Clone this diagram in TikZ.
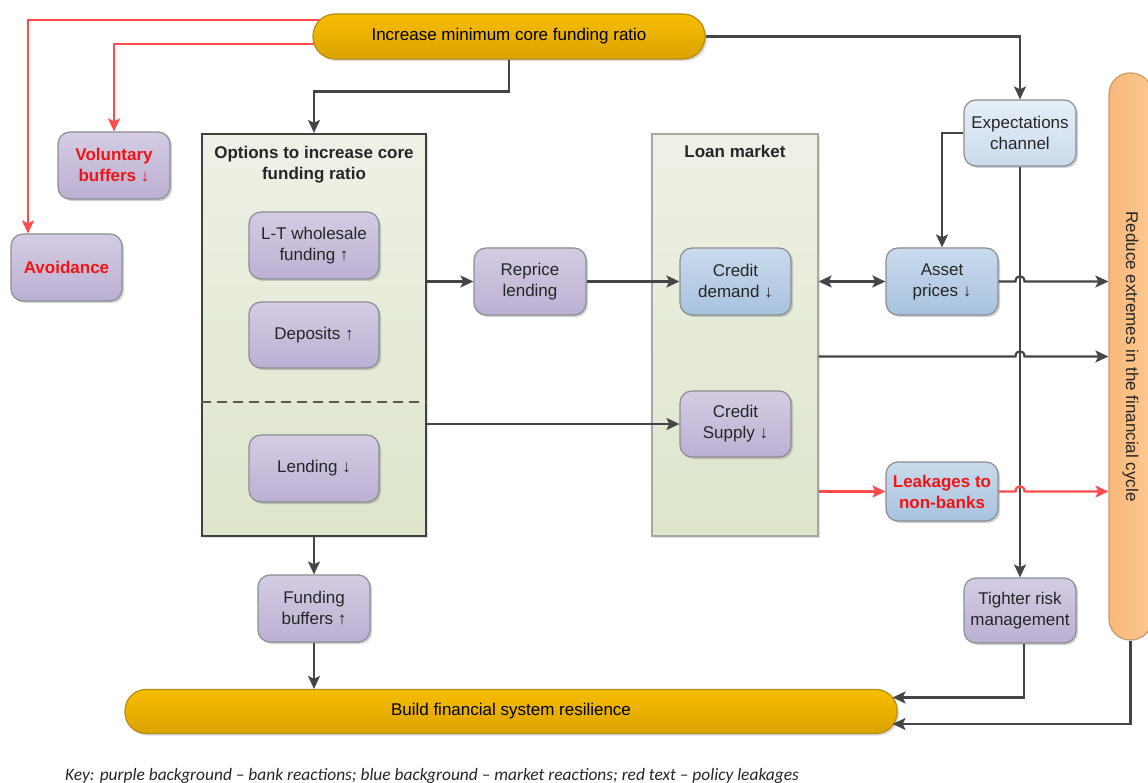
\documentclass[tikz,border=0pt]{standalone}
\usepackage{fontspec}
\setmainfont{Liberation Sans}
\newfontfamily\keyfont{Carlito}
\usetikzlibrary{arrows.meta,shadows,backgrounds,calc}
\definecolor{purtop}{HTML}{D4CCE3}
\definecolor{purbot}{HTML}{BCB0D3}
\definecolor{bluetop}{HTML}{C9DBED}
\definecolor{bluebot}{HTML}{A8C2DE}
\definecolor{exptop}{HTML}{E6EEF7}
\definecolor{expbot}{HTML}{CBDBEC}
\definecolor{boxborder}{HTML}{8C8C94}
\definecolor{yeltop}{HTML}{F7BD00}
\definecolor{yelbot}{HTML}{DBA300}
\definecolor{yelborder}{HTML}{B38E10}
\definecolor{orleft}{HTML}{F8B878}
\definecolor{orright}{HTML}{FCC891}
\definecolor{orborder}{HTML}{C99A6A}
\definecolor{grntop}{HTML}{EEF1E6}
\definecolor{grnbot}{HTML}{DDE5CB}
\definecolor{linec}{HTML}{454545}
\definecolor{redline}{HTML}{FF4B4B}
\definecolor{redtxt}{HTML}{EE1515}
\begin{document}
\begin{tikzpicture}[x=1pt,y=-1pt,
  tip/.style={-{Stealth[length=13pt,width=12pt,inset=3pt]}},
  conn/.style={draw=linec,line width=2.2pt,tip},
  redconn/.style={draw=redline,line width=2.2pt,tip},
  box/.style={draw=boxborder,line width=1.2pt,rounded corners=12pt,
    minimum width=112pt,minimum height=67pt,inner sep=2pt,align=center,
    font=\fontsize{17}{21}\selectfont,text=black!85,
    drop shadow={shadow xshift=2pt,shadow yshift=-2pt,opacity=0.3,fill=black!60}},
  pbox/.style={box,top color=purtop,bottom color=purbot},
  bbox/.style={box,top color=bluetop,bottom color=bluebot},
  ebox/.style={box,top color=exptop,bottom color=expbot},
  leaktext/.style={text=redtxt,font=\fontsize{17}{21}\selectfont\bfseries},
  pill/.style={draw=yelborder,line width=1.2pt,top color=yeltop,bottom color=yelbot,
    inner sep=0pt,font=\fontsize{17}{21}\selectfont,
    drop shadow={shadow xshift=2pt,shadow yshift=-2pt,opacity=0.25,fill=black!60}},
  panel/.style={top color=grntop,bottom color=grnbot,inner sep=0pt},
  title/.style={font=\fontsize{17}{21}\selectfont\bfseries,align=center,text=black!85,inner sep=0pt}
]
\useasboundingbox (0,0) rectangle (1148,783);

% panels
\node[panel,draw=black!75,line width=2.2pt,minimum width=224pt,minimum height=402pt,
  drop shadow={shadow xshift=2pt,shadow yshift=-2pt,opacity=0.2,fill=black!60}] (opt) at (314,335) {};
\node[panel,draw=black!35,line width=1.2pt,minimum width=166pt,minimum height=402pt,
  drop shadow={shadow xshift=2pt,shadow yshift=-2pt,opacity=0.2,fill=black!60}] (loan) at (735,335) {};
\node[title,anchor=north] (optT) at ([yshift=-13pt]opt.north) {Options to increase core\\funding ratio};
\node[title,anchor=north] (loanT) at ([yshift=-12pt]loan.north) {Loan market};
\draw[draw=black!65,line width=1.6pt,dash pattern=on 10pt off 6pt] (opt.west |- 0,402) -- (opt.east |- 0,402);

% pills
\node[pill,rounded corners=22pt,minimum width=392pt,minimum height=45pt] (top) at (509,36.5)
  {Increase minimum core funding ratio};
\node[pill,rounded corners=21pt,minimum width=772pt,minimum height=44pt] (build) at (511,711.5)
  {Build financial system resilience};
\node[draw=orborder,line width=1.2pt,left color=orleft,right color=orright,rounded corners=21pt,
  minimum width=43pt,minimum height=567pt,inner sep=0pt,
  label={[rotate=-90,font=\fontsize{17}{21}\selectfont,text=black!85]center:Reduce extremes in the financial cycle}]
  (reduce) at (1130.5,356.5) {};

% boxes
\node[pbox,leaktext] (vol) at (114,165.5) {Voluntary\\buffers ↓};
\node[pbox,leaktext,minimum width=111pt] (avoid) at (66.5,267.5) {Avoidance};
\node[pbox,minimum width=130pt] (lt) at (314,245.5) {L-T wholesale\\funding ↑};
\node[pbox,minimum width=130pt,minimum height=66pt] (dep) at (314,335) {Deposits ↑};
\node[pbox,minimum width=130pt] (lend) at (314,468.5) {Lending ↓};
\node[pbox] (reprice) at (530,281.5) {Reprice\\lending};
\node[bbox,minimum width=111pt] (demand) at (735.5,281.5) {Credit\\demand ↓};
\node[pbox,minimum width=111pt,minimum height=66pt] (supply) at (735.5,424) {Credit\\Supply ↓};
\node[ebox,minimum height=66pt] (expect) at (1020,133) {Expectations\\channel};
\node[bbox] (asset) at (942,281.5) {Asset\\prices ↓};
\node[bbox,leaktext,minimum height=59pt] (leak) at (942,491.5) {Leakages to\\non-banks};
\node[pbox,minimum height=65pt] (tight) at (1020,610.5) {Tighter risk\\management};
\node[pbox] (fund) at (314,608.5) {Funding\\buffers ↑};

% red policy leakage lines behind the top pill
\begin{scope}[on background layer]
\draw[redconn] ([yshift=16.5pt]top.center) -| ([xshift=-38.5pt]avoid.north);
\draw[redconn] ([yshift=-7.5pt]top.center) -| (vol.north);
\end{scope}

% connectors
\draw[conn] (top.south) -- ++(0,32) -| (opt.north);
\draw[conn] (top.east) -| (expect.north);
\draw[conn] (expect.west) -| (asset.north);
\draw[conn] (expect.south) -- (tight.north);
\draw[conn] (opt.east |- reprice.west) -- (reprice.west);
\draw[conn] (reprice.east) -- (demand.west);
\draw[conn] (opt.east |- supply.west) -- (supply.west);
\draw[draw=linec,line width=2.2pt,{Stealth[length=13pt,width=12pt,inset=3pt]}-{Stealth[length=13pt,width=12pt,inset=3pt]}]
  (loan.east |- asset.west) -- (asset.west);
\draw[conn] (asset.east) -- ([xshift=-4.5pt]asset.east -| expect.south)
  .. controls +(0,-7) and +(0,-7) .. ([xshift=4.5pt]asset.east -| expect.south) -- (asset.east -| reduce.west);
\draw[conn] (loan.east |- reduce.west) -- ([xshift=-4.5pt]reduce.west -| expect.south)
  .. controls +(0,-7) and +(0,-7) .. ([xshift=4.5pt]reduce.west -| expect.south) -- (reduce.west);
\draw[redconn] (loan.east |- leak.west) -- (leak.west);
\draw[redconn] (leak.east) -- ([xshift=-4.5pt]leak.east -| expect.south)
  .. controls +(0,-7) and +(0,-7) .. ([xshift=4.5pt]leak.east -| expect.south) -- (leak.east -| reduce.west);
\draw[conn] (opt.south) -- (fund.north);
\draw[conn] (fund.south) -- (fund.south |- build.north);
\draw[conn] ([xshift=4pt]tight.south) |- ([xshift=-5pt,yshift=14pt]build.east);
\draw[conn] (reduce.south) |- ([xshift=-5pt,yshift=-12.5pt]build.east);

% key
\node[anchor=base west,inner sep=0pt,font=\keyfont\itshape\fontsize{17.4}{20}\selectfont,text=black!85] (key) at (65,780)
  {Key: purple background – bank reactions; blue background – market reactions; red text – policy leakages};
\end{tikzpicture}
\end{document}
